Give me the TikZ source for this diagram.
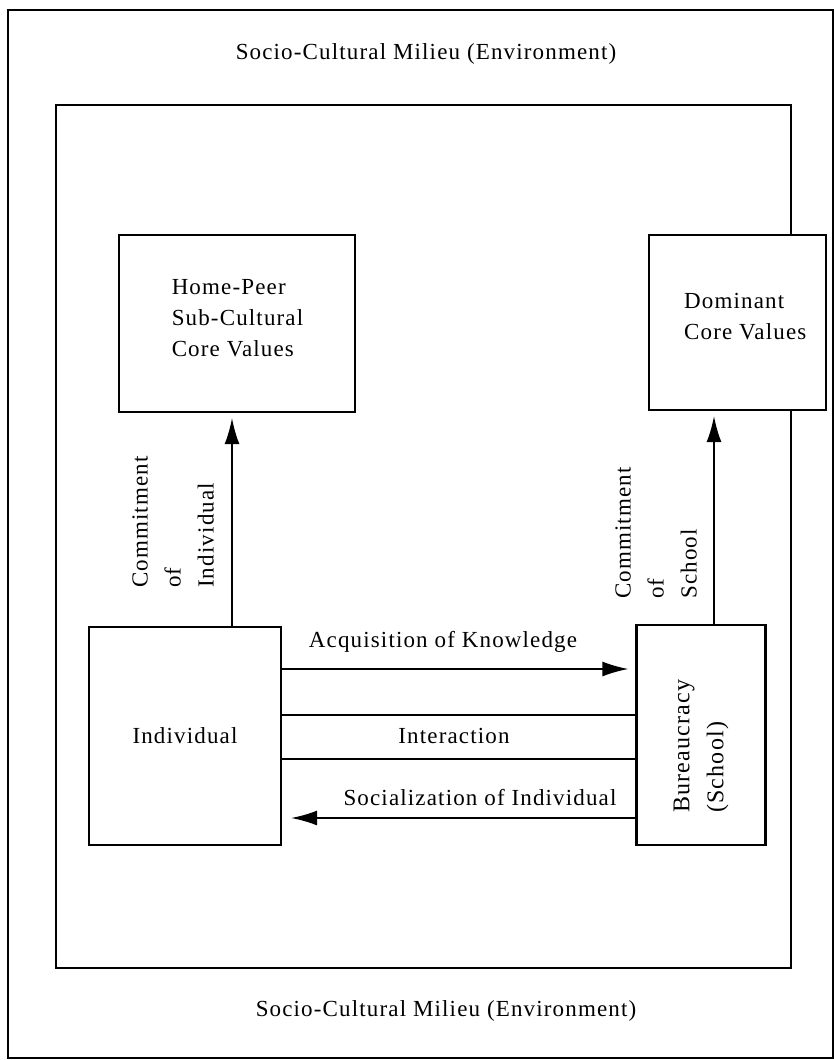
\documentclass[tikz,border=0pt]{standalone}
\usepackage{fontspec}
\setmainfont{Liberation Serif}[LetterSpace=5]
\usetikzlibrary{arrows.meta}
\begin{document}
\begin{tikzpicture}[x=1pt,y=-1pt,
  frame/.style={draw, line width=1.8pt, inner sep=0pt},
  box/.style={draw, line width=2.2pt, fill=white, inner sep=0pt},
  lbl/.style={font=\fontsize{23}{31}\selectfont, inner sep=0pt, align=left},
  rlbl/.style={font=\fontsize{23}{33}\selectfont, inner sep=0pt, align=left, rotate=90, anchor=west},
  arr/.style={line width=1.8pt, -{Latex[length=26pt,width=15pt]}},
  ln/.style={line width=1.8pt}]
\useasboundingbox (0,0) rectangle (834,1060);
% frames
\node[frame, minimum width=825pt, minimum height=1048pt] (outer) at (420.5,534) {};
\node[frame, minimum width=735pt, minimum height=863pt] (inner) at (423.5,536.5) {};
\node[lbl] (toptext) at (426,54) {Socio-Cultural Milieu (Environment)};
\node[lbl] (bottext) at (446,1011) {Socio-Cultural Milieu (Environment)};
% boxes
\node[box, minimum width=236pt, minimum height=177pt] (home) at (237,323.5) {};
\node[lbl] (hometext) at (237.5,318) {Home-Peer\\Sub-Cultural\\Core Values};
\node[box, minimum width=177pt, minimum height=175pt] (dom) at (737.5,322.5) {};
\node[lbl, anchor=west] (domtext) at (684,317) {Dominant\\Core Values};
\node[box, lbl, draw, line width=2.2pt, minimum width=192pt, minimum height=218pt] (indiv) at (185,736) {Individual};
\node[box, minimum width=129pt, minimum height=220pt] (bur) at (701,735) {};
\node[rlbl, font=\fontsize{24}{34}\selectfont] (burtext) at (701,813) {Bureaucracy\\(School)};
% vertical commitments
\draw[arr, shorten >=5pt] (indiv.north -| 232,0) -- (home.south -| 232,0);
\draw[arr, shorten >=5pt] (bur.north -| 714,0) -- (dom.south -| 714,0);
\node[rlbl] (comind) at (173,588) {Commitment\\of\\Individual};
\node[rlbl] (comsch) at (656,599) {Commitment\\of\\School};
% horizontal links
\draw[arr, shorten >=7pt] (indiv.east |- 0,669) -- (bur.west |- 0,669);
\node[lbl] (acq) at (443,642) {Acquisition of Knowledge};
\draw[ln] (indiv.east |- 0,715) -- (bur.west |- 0,715);
\draw[ln] (indiv.east |- 0,759) -- (bur.west |- 0,759);
\node[lbl] (inter) at (454,736) {Interaction};
\draw[arr, shorten >=9pt] (bur.west |- 0,818) -- (indiv.east |- 0,818);
\node[lbl] (soc) at (480,798) {Socialization of Individual};
\end{tikzpicture}
\end{document}
